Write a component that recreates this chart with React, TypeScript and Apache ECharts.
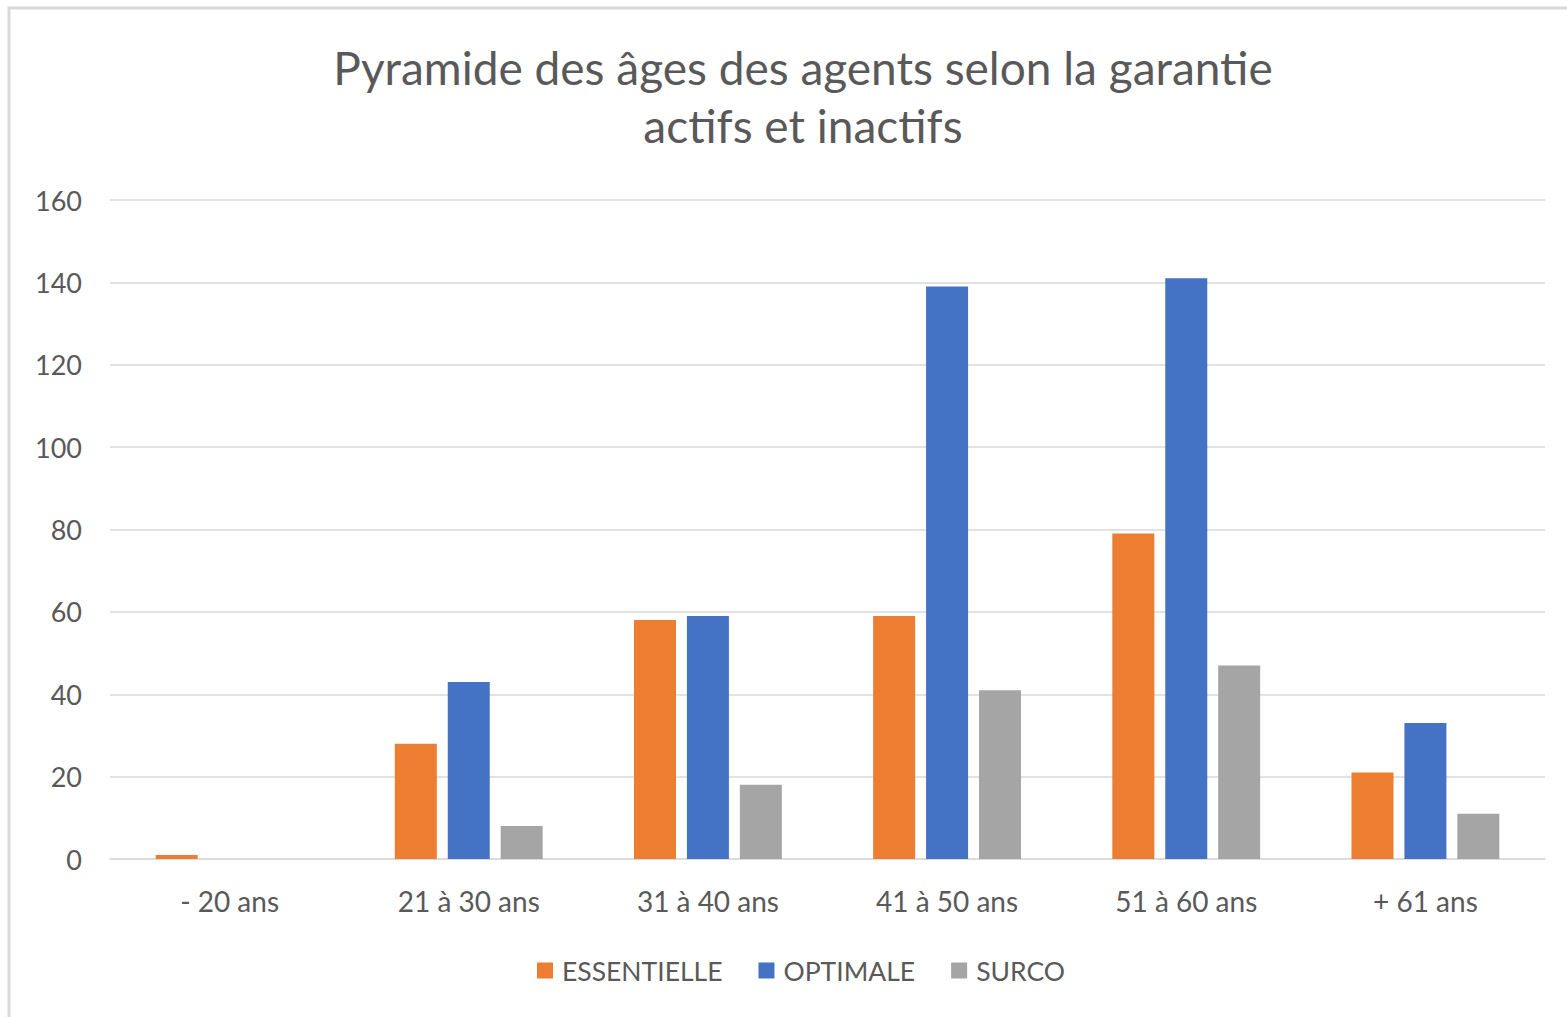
import React, { useEffect, useRef } from "react";
import * as echarts from "echarts";

const categories = ["- 20 ans", "21 à 30 ans", "31 à 40 ans", "41 à 50 ans", "51 à 60 ans", "+ 61 ans"];
const essentielle = [1, 28, 58, 59, 79, 21];
const optimale = [0, 43, 59, 139, 141, 33];
const surco = [0, 8, 18, 41, 47, 11];
const seriesNames = ["ESSENTIELLE", "OPTIMALE", "SURCO"];
const colors = ["#ED7D31", "#4472C4", "#A5A5A5"];
const titleText = "Pyramide des âges des agents selon la garantie\nactifs et inactifs";

const FONT = "Lato, 'Open Sans', sans-serif";
const TEXT = "#595959";

export default function App() {
  const ref = useRef<HTMLDivElement>(null);
  useEffect(() => {
    if (!ref.current) return;
    const chart = echarts.init(ref.current, null, { renderer: "svg" });
    const data = [essentielle, optimale, surco];
    chart.setOption({
      animation: false,
      backgroundColor: "#ffffff",
      title: {
        text: titleText,
        left: 798,
        textAlign: "center",
        top: 33,
        textStyle: {
          fontFamily: FONT,
          fontSize: 46,
          fontWeight: "normal",
          color: TEXT,
          lineHeight: 58,
        },
      },
      legend: {
        bottom: 28,
        left: 532,
        itemWidth: 16,
        itemHeight: 16,
        itemGap: 36,
        icon: "rect",
        textStyle: { fontFamily: FONT, fontSize: 26.5, color: TEXT, padding: [0, 0, 0, 4] },
        data: seriesNames,
      },
      grid: { left: 110, right: 22, top: 200, bottom: 158, containLabel: false },
      xAxis: {
        type: "category",
        data: categories,
        axisLine: { lineStyle: { color: "#D9D9D9", width: 1.5 } },
        axisTick: { show: false },
        axisLabel: { fontFamily: FONT, fontSize: 28, color: TEXT, margin: 28 },
      },
      yAxis: {
        type: "value",
        min: 0,
        max: 160,
        interval: 20,
        axisLine: { show: false },
        axisTick: { show: false },
        splitLine: { lineStyle: { color: "#D9D9D9", width: 1.5 } },
        axisLabel: { fontFamily: FONT, fontSize: 27, color: TEXT, margin: 28 },
      },
      graphic: [
        {
          type: "rect",
          shape: { x: 9, y: 8, width: 1700, height: 1200 },
          style: { fill: "none", stroke: "#D9D9D9", lineWidth: 3 },
          silent: true,
        },
      ],
      series: seriesNames.map((name, i) => ({
        name,
        type: "bar",
        data: data[i],
        barWidth: 42,
        barGap: "26%",
        itemStyle: { color: colors[i] },
      })),
    });
    return () => chart.dispose();
  }, []);
  return (
    <div style={{ position: "absolute", left: 0, top: 0, width: 1567, height: 1017, background: "#fff" }}>
      <div ref={ref} style={{ width: 1567, height: 1017 }} />
    </div>
  );
}
